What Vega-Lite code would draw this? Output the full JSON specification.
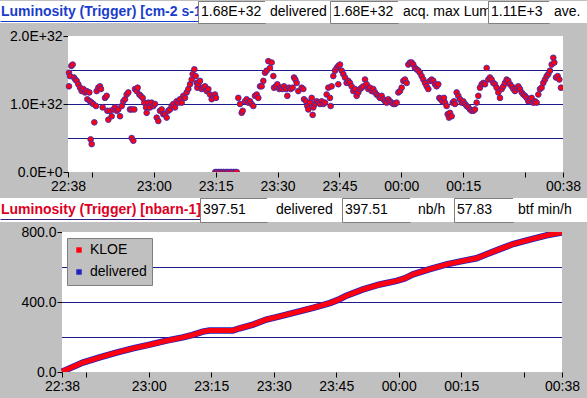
{
  "$schema": "https://vega.github.io/schema/vega-lite/v6.json",
  "background": "#c0c0c0",
  "padding": 0,
  "spacing": 0,
  "columns": 1,
  "align": "none",
  "resolve": {"scale": {"color": "independent"}, "legend": {"color": "independent"}},
  "config": {"font": "Liberation Sans", "view": {"stroke": null}, "text": {"fontSize": 14, "align": "left", "baseline": "middle", "color": "black"}},
  "datasets": {"frame": [{"panel": "plot area"}]},
  "concat": [
    {
      "spacing": 5,
      "columns": 1,
      "align": "none",
      "concat": [
        {
          "spacing": 0,
          "bounds": "flush",
          "hconcat": [
            {"width": 198, "height": 22, "view": {"fill": "white", "stroke": null}, "data": {"values": [{"t": "Luminosity (Trigger) [cm-2 s-1]"}]}, "mark": {"type": "text", "dx": 1, "clip": true, "color": "#1a3ccc", "fontWeight": "bold"}, "encoding": {"text": {"field": "t"}, "x": {"datum": 0, "type": "quantitative", "scale": {"domain": [0, 1]}, "axis": {"domainColor": "#1a3ccc", "ticks": false, "labels": false, "grid": false, "title": null, "offset": -2, "minExtent": 0, "maxExtent": 0}}}},
            {"width": 67, "height": 22, "view": {"fill": "white", "stroke": "#7f7f7f"}, "data": {"values": [{"t": "1.68E+32"}]}, "mark": {"type": "text", "dx": 3, "clip": true}, "encoding": {"text": {"field": "t"}, "x": {"datum": 0, "type": "quantitative", "scale": {"domain": [0, 1]}, "axis": null}}},
            {"width": 65, "height": 22, "view": {"fill": "white", "stroke": null}, "data": {"values": [{"t": "delivered"}]}, "mark": {"type": "text", "dx": 5, "clip": true}, "encoding": {"text": {"field": "t"}, "x": {"datum": 0, "type": "quantitative", "scale": {"domain": [0, 1]}, "axis": null}}},
            {"width": 68, "height": 22, "view": {"fill": "white", "stroke": "#7f7f7f"}, "data": {"values": [{"t": "1.68E+32"}]}, "mark": {"type": "text", "dx": 3, "clip": true}, "encoding": {"text": {"field": "t"}, "x": {"datum": 0, "type": "quantitative", "scale": {"domain": [0, 1]}, "axis": null}}},
            {"width": 90, "height": 22, "view": {"fill": "white", "stroke": null}, "data": {"values": [{"t": "acq. max Lum"}]}, "mark": {"type": "text", "dx": 5, "clip": true}, "encoding": {"text": {"field": "t"}, "x": {"datum": 0, "type": "quantitative", "scale": {"domain": [0, 1]}, "axis": null}}},
            {"width": 61, "height": 22, "view": {"fill": "white", "stroke": "#7f7f7f"}, "data": {"values": [{"t": "1.11E+3"}]}, "mark": {"type": "text", "dx": 3, "clip": true}, "encoding": {"text": {"field": "t"}, "x": {"datum": 0, "type": "quantitative", "scale": {"domain": [0, 1]}, "axis": null}}},
            {"width": 38, "height": 22, "view": {"fill": "white", "stroke": null}, "data": {"values": [{"t": "ave."}]}, "mark": {"type": "text", "dx": 5, "clip": true}, "encoding": {"text": {"field": "t"}, "x": {"datum": 0, "type": "quantitative", "scale": {"domain": [0, 1]}, "axis": null}}}
          ]
        },
        {
          "width": 563,
          "height": 136,
          "view": {"fill": null, "stroke": null},
          "layer": [
            {"data": {"name": "frame"}, "mark": {"type": "rule", "color": "white", "strokeWidth": 136, "strokeCap": "butt", "clip": true},
             "encoding": {
               "x": {"datum": 39.2, "type": "quantitative", "scale": {"domain": [39.2, 159.2], "range": [68, 563], "nice": false, "zero": false},
                 "axis": {"values": [39.2, 45, 60, 75, 90, 105, 120, 135, 150, 159.2], "labelExpr": "datum.value < 40 ? '22:38' : datum.value > 158 ? '00:38' : datum.value == 60 ? '23:00' : datum.value == 75 ? '23:15' : datum.value == 90 ? '23:30' : datum.value == 105 ? '23:45' : datum.value == 120 ? '00:00' : datum.value == 135 ? '00:15' : ''", "tickSize": 5, "labelPadding": 2, "labelFlush": false, "labelOverlap": false, "labelBound": false, "grid": false, "domain": false, "title": null, "minExtent": 25, "maxExtent": 25, "tickColor": "black", "labelColor": "black", "labelFontSize": 14}},
               "x2": {"datum": 159.2},
               "y": {"datum": 1e32, "type": "quantitative", "scale": {"domain": [0, 2e32], "nice": false},
                 "axis": {"values": [0, 5e31, 1e32, 1.5e32, 2e32], "labelExpr": "upper(format(datum.value, '.1e'))", "labelOverlap": false, "tickSize": 5, "labelPadding": 1, "grid": false, "domain": false, "title": null, "offset": -68, "minExtent": 68, "maxExtent": 68, "tickColor": "black", "labelColor": "black", "labelFontSize": 14}}
             }},
            {"data": {"name": "frame"}, "mark": {"type": "rule", "color": "#1c1c8c", "strokeWidth": 1, "yOffset": 0.5}, "encoding": {"x": {"datum": 39.2, "type": "quantitative"}, "x2": {"datum": 159.2}, "y": {"datum": 5e31, "type": "quantitative"}}},
            {"data": {"name": "frame"}, "mark": {"type": "rule", "color": "#1c1c8c", "strokeWidth": 1, "yOffset": 0.5}, "encoding": {"x": {"datum": 39.2, "type": "quantitative"}, "x2": {"datum": 159.2}, "y": {"datum": 1e32, "type": "quantitative"}}},
            {"data": {"name": "frame"}, "mark": {"type": "rule", "color": "#1c1c8c", "strokeWidth": 1, "yOffset": 0.5}, "encoding": {"x": {"datum": 39.2, "type": "quantitative"}, "x2": {"datum": 159.2}, "y": {"datum": 1.5e32, "type": "quantitative"}}},
            {
              "data": {"values": [
                {"min":39.44,"lum":1.46e32},{"min":39.44,"lum":1.26e32},{"min":39.68,"lum":1.41e32},{"min":40.01,"lum":1.56e32},{"min":40.33,"lum":1.58e32},{"min":40.65,"lum":1.39e32},{"min":40.98,"lum":1.36e32},{"min":41.30,"lum":1.34e32},{"min":41.71,"lum":1.29e32},{"min":42.11,"lum":1.24e32},{"min":42.51,"lum":1.19e32},{"min":42.92,"lum":1.22e32},{"min":43.32,"lum":1.17e32},{"min":43.73,"lum":1.19e32},{"min":43.89,"lum":1.07e32},{"min":44.37,"lum":1.17e32},{"min":44.53,"lum":1.04e32},{"min":44.69,"lum":0.48e32},{"min":44.94,"lum":0.41e32},{"min":44.94,"lum":1.02e32},{"min":45.34,"lum":1.00e32},{"min":45.58,"lum":0.73e32},{"min":45.99,"lum":0.97e32},{"min":46.15,"lum":1.19e32},{"min":46.55,"lum":1.24e32},{"min":46.96,"lum":1.26e32},{"min":47.20,"lum":1.22e32},{"min":47.60,"lum":0.95e32},{"min":48.17,"lum":1.09e32},{"min":48.57,"lum":1.12e32},{"min":48.74,"lum":0.90e32},{"min":48.98,"lum":0.77e32},{"min":49.38,"lum":0.90e32},{"min":49.79,"lum":0.82e32},{"min":50.19,"lum":0.92e32},{"min":50.59,"lum":0.95e32},{"min":51.00,"lum":0.90e32},{"min":51.40,"lum":0.92e32},{"min":51.81,"lum":0.82e32},{"min":52.21,"lum":0.97e32},{"min":52.61,"lum":1.04e32},{"min":53.02,"lum":1.07e32},{"min":53.42,"lum":1.14e32},{"min":53.83,"lum":1.17e32},{"min":54.23,"lum":0.92e32},{"min":54.63,"lum":0.50e32},{"min":55.04,"lum":0.46e32},{"min":54.63,"lum":0.92e32},{"min":55.28,"lum":0.92e32},{"min":55.44,"lum":1.22e32},{"min":55.85,"lum":1.19e32},{"min":56.09,"lum":1.24e32},{"min":56.49,"lum":1.14e32},{"min":56.82,"lum":1.12e32},{"min":57.30,"lum":1.09e32},{"min":57.71,"lum":1.02e32},{"min":58.11,"lum":0.95e32},{"min":58.27,"lum":0.87e32},{"min":58.67,"lum":1.02e32},{"min":59.08,"lum":0.95e32},{"min":59.48,"lum":1.02e32},{"min":59.89,"lum":0.97e32},{"min":60.29,"lum":1.00e32},{"min":60.70,"lum":0.80e32},{"min":61.10,"lum":0.75e32},{"min":61.50,"lum":0.90e32},{"min":61.91,"lum":0.92e32},{"min":62.31,"lum":0.85e32},{"min":62.72,"lum":0.85e32},{"min":63.12,"lum":0.80e32},{"min":63.52,"lum":0.90e32},{"min":63.93,"lum":0.92e32},{"min":64.33,"lum":0.97e32},{"min":64.74,"lum":1.00e32},{"min":65.14,"lum":0.95e32},{"min":65.54,"lum":1.04e32},{"min":65.95,"lum":1.02e32},{"min":66.35,"lum":1.07e32},{"min":66.76,"lum":1.02e32},{"min":67.16,"lum":1.12e32},{"min":67.56,"lum":1.09e32},{"min":67.97,"lum":1.17e32},{"min":68.37,"lum":1.22e32},{"min":68.78,"lum":1.29e32},{"min":69.18,"lum":1.36e32},{"min":69.42,"lum":1.44e32},{"min":69.83,"lum":1.51e32},{"min":70.15,"lum":1.41e32},{"min":70.39,"lum":1.31e32},{"min":70.55,"lum":1.24e32},{"min":70.80,"lum":1.29e32},{"min":71.20,"lum":1.34e32},{"min":71.60,"lum":1.22e32},{"min":72.01,"lum":1.24e32},{"min":72.41,"lum":1.26e32},{"min":72.82,"lum":1.19e32},{"min":73.22,"lum":1.22e32},{"min":73.62,"lum":1.14e32},{"min":74.03,"lum":1.07e32},{"min":74.43,"lum":1.12e32},{"min":74.84,"lum":1.14e32},{"min":75.08,"lum":1.09e32},
                {"min":74.9,"lum":0},{"min":75.3,"lum":0},{"min":75.7,"lum":0},{"min":76.1,"lum":0},{"min":76.5,"lum":0},{"min":76.9,"lum":0},{"min":77.3,"lum":0},{"min":77.7,"lum":0},{"min":78.1,"lum":0},{"min":78.5,"lum":0},{"min":78.9,"lum":0},{"min":79.3,"lum":0},{"min":79.7,"lum":0},{"min":80.1,"lum":0},
                {"min":80.49,"lum":1.09e32},{"min":80.90,"lum":1.00e32},{"min":81.30,"lum":0.87e32},{"min":81.54,"lum":0.90e32},{"min":82.11,"lum":1.04e32},{"min":82.51,"lum":1.07e32},{"min":82.92,"lum":1.02e32},{"min":83.32,"lum":1.04e32},{"min":83.72,"lum":1.00e32},{"min":84.13,"lum":0.97e32},{"min":84.53,"lum":1.12e32},{"min":84.94,"lum":1.14e32},{"min":85.34,"lum":1.09e32},{"min":85.75,"lum":1.26e32},{"min":86.15,"lum":1.26e32},{"min":86.55,"lum":1.34e32},{"min":86.96,"lum":1.46e32},{"min":87.36,"lum":1.49e32},{"min":87.77,"lum":1.63e32},{"min":88.17,"lum":1.53e32},{"min":88.57,"lum":1.61e32},{"min":88.98,"lum":1.41e32},{"min":89.14,"lum":1.24e32},{"min":89.62,"lum":1.26e32},{"min":89.95,"lum":1.29e32},{"min":90.43,"lum":1.22e32},{"min":90.76,"lum":1.24e32},{"min":91.16,"lum":1.22e32},{"min":91.56,"lum":1.26e32},{"min":92.05,"lum":1.22e32},{"min":92.37,"lum":1.12e32},{"min":92.78,"lum":1.24e32},{"min":93.18,"lum":1.22e32},{"min":93.66,"lum":1.24e32},{"min":93.99,"lum":1.39e32},{"min":94.31,"lum":1.36e32},{"min":94.63,"lum":1.31e32},{"min":95.04,"lum":1.19e32},
                {"min":95.84,"lum":1.24e32},{"min":96.25,"lum":1.22e32},{"min":96.41,"lum":1.07e32},{"min":96.89,"lum":1.04e32},{"min":97.22,"lum":0.97e32},{"min":97.46,"lum":0.92e32},{"min":97.86,"lum":1.02e32},{"min":98.27,"lum":1.09e32},{"min":98.51,"lum":0.84e32},{"min":98.67,"lum":0.95e32},{"min":99.07,"lum":1.00e32},{"min":99.48,"lum":1.04e32},{"min":99.88,"lum":1.02e32},{"min":100.29,"lum":1.00e32},{"min":100.69,"lum":1.04e32},{"min":101.09,"lum":1.00e32},{"min":101.50,"lum":1.02e32},{"min":101.90,"lum":1.14e32},{"min":102.31,"lum":1.24e32},{"min":102.71,"lum":1.09e32},{"min":102.87,"lum":0.97e32},{"min":103.11,"lum":1.26e32},{"min":103.52,"lum":1.41e32},{"min":103.92,"lum":1.49e32},{"min":104.33,"lum":1.53e32},{"min":104.73,"lum":1.56e32},{"min":105.14,"lum":1.58e32},{"min":104.73,"lum":1.29e32},{"min":105.54,"lum":1.49e32},{"min":105.94,"lum":1.44e32},{"min":106.35,"lum":1.39e32},{"min":106.75,"lum":1.31e32},{"min":107.16,"lum":1.34e32},{"min":107.56,"lum":1.31e32},{"min":107.96,"lum":1.26e32},{"min":108.37,"lum":1.19e32},{"min":108.77,"lum":1.22e32},{"min":109.18,"lum":1.12e32},{"min":109.58,"lum":1.17e32},{"min":109.98,"lum":1.22e32},{"min":110.39,"lum":1.24e32},{"min":110.79,"lum":1.26e32},{"min":111.20,"lum":1.36e32},{"min":111.60,"lum":1.29e32},{"min":112.00,"lum":1.22e32},{"min":112.41,"lum":1.24e32},{"min":112.81,"lum":1.19e32},{"min":113.22,"lum":1.22e32},{"min":113.62,"lum":1.17e32},{"min":114.02,"lum":1.14e32},{"min":114.43,"lum":1.12e32},{"min":114.83,"lum":1.09e32},{"min":115.24,"lum":1.12e32},{"min":115.64,"lum":1.07e32},{"min":116.05,"lum":1.04e32},{"min":116.45,"lum":1.02e32},{"min":116.85,"lum":1.07e32},{"min":117.26,"lum":1.04e32},{"min":117.66,"lum":1.02e32},{"min":118.07,"lum":1.00e32},{"min":118.47,"lum":1.00e32},{"min":118.87,"lum":1.02e32},{"min":119.28,"lum":1.17e32},{"min":119.68,"lum":1.19e32},{"min":120.09,"lum":1.24e32},{"min":120.49,"lum":1.34e32},{"min":120.89,"lum":1.36e32},{"min":121.30,"lum":1.31e32},{"min":121.70,"lum":1.58e32},{"min":122.11,"lum":1.61e32},{"min":122.51,"lum":1.61e32},{"min":122.91,"lum":1.58e32},{"min":123.32,"lum":1.53e32},{"min":123.72,"lum":1.51e32},{"min":124.13,"lum":1.49e32},{"min":124.53,"lum":1.46e32},{"min":124.93,"lum":1.41e32},{"min":125.34,"lum":1.36e32},{"min":125.74,"lum":1.31e32},{"min":126.15,"lum":1.26e32},{"min":126.55,"lum":1.22e32},{"min":126.95,"lum":1.34e32},{"min":127.36,"lum":1.36e32},{"min":127.76,"lum":1.34e32},{"min":128.17,"lum":1.29e32},{"min":128.57,"lum":1.26e32},{"min":128.97,"lum":1.29e32},{"min":129.22,"lum":1.09e32},{"min":129.54,"lum":1.07e32},{"min":129.94,"lum":1.04e32},{"min":130.35,"lum":1.09e32},{"min":130.59,"lum":1.02e32},{"min":130.99,"lum":0.97e32},{"min":131.24,"lum":0.85e32},{"min":131.56,"lum":0.80e32},{"min":131.80,"lum":0.87e32},{"min":132.21,"lum":0.82e32},{"min":132.45,"lum":1.02e32},{"min":132.77,"lum":1.04e32},{"min":133.01,"lum":1.00e32},{"min":133.42,"lum":1.17e32},{"min":133.82,"lum":1.12e32},{"min":134.23,"lum":1.07e32},{"min":134.63,"lum":1.02e32},{"min":135.03,"lum":1.04e32},{"min":135.44,"lum":1.00e32},{"min":135.84,"lum":0.97e32},{"min":136.25,"lum":0.95e32},{"min":136.65,"lum":0.92e32},{"min":137.05,"lum":0.90e32},{"min":137.46,"lum":0.90e32},{"min":137.86,"lum":0.92e32},{"min":138.27,"lum":1.02e32},{"min":138.67,"lum":1.12e32},{"min":139.07,"lum":1.24e32},{"min":139.48,"lum":1.29e32},{"min":139.88,"lum":1.31e32},{"min":140.29,"lum":1.29e32},{"min":140.69,"lum":1.53e32},{"min":141.09,"lum":1.36e32},{"min":141.50,"lum":1.39e32},{"min":141.90,"lum":1.36e32},{"min":142.31,"lum":1.31e32},{"min":142.71,"lum":1.29e32},{"min":143.11,"lum":1.24e32},{"min":143.52,"lum":1.17e32},{"min":143.92,"lum":1.09e32},{"min":144.33,"lum":1.22e32},{"min":144.73,"lum":1.26e32},{"min":145.14,"lum":1.31e32},{"min":145.54,"lum":1.36e32},{"min":145.94,"lum":1.34e32},{"min":146.35,"lum":1.29e32},{"min":146.75,"lum":1.26e32},{"min":147.16,"lum":1.22e32},{"min":147.56,"lum":1.19e32},{"min":147.96,"lum":1.24e32},{"min":148.37,"lum":1.26e32},{"min":148.77,"lum":1.22e32},{"min":149.18,"lum":1.17e32},{"min":149.58,"lum":1.14e32},{"min":149.98,"lum":1.12e32},{"min":150.39,"lum":1.09e32},{"min":150.79,"lum":1.04e32},{"min":151.20,"lum":1.07e32},{"min":151.60,"lum":1.09e32},{"min":152.00,"lum":1.02e32},{"min":152.41,"lum":1.04e32},{"min":152.81,"lum":1.02e32},{"min":153.22,"lum":1.14e32},{"min":153.62,"lum":1.22e32},{"min":154.02,"lum":1.24e32},{"min":154.43,"lum":1.31e32},{"min":154.83,"lum":1.36e32},{"min":155.24,"lum":1.41e32},{"min":155.64,"lum":1.44e32},{"min":156.04,"lum":1.49e32},{"min":156.45,"lum":1.58e32},{"min":156.85,"lum":1.68e32},{"min":157.10,"lum":1.61e32},{"min":157.50,"lum":1.39e32},{"min":157.90,"lum":1.41e32},{"min":158.31,"lum":1.36e32},{"min":158.71,"lum":1.24e32}
              ]},
              "mark": {"type": "point", "filled": true, "fill": "#ff0010", "stroke": "#3a2cb0", "strokeWidth": 0.9, "size": 32, "opacity": 1, "clip": true},
              "encoding": {
                "x": {"field": "min", "type": "quantitative"},
                "y": {"field": "lum", "type": "quantitative"}
              }
            }
          ]
        }
      ]
    },
    {
      "spacing": 2,
      "columns": 1,
      "align": "none",
      "resolve": {"scale": {"color": "independent"}, "legend": {"color": "independent"}},
      "concat": [
        {
          "spacing": 0,
          "bounds": "flush",
          "hconcat": [
            {"width": 200, "height": 24, "view": {"fill": "white", "stroke": null}, "data": {"values": [{"t": "Luminosity (Trigger) [nbarn-1]"}]}, "mark": {"type": "text", "dx": 1, "clip": true, "color": "#dd0022", "fontWeight": "bold"}, "encoding": {"text": {"field": "t"}, "x": {"datum": 0, "type": "quantitative", "scale": {"domain": [0, 1]}, "axis": {"domainColor": "#302080", "ticks": false, "labels": false, "grid": false, "title": null, "offset": -3, "minExtent": 0, "maxExtent": 0}}}},
            {"width": 67, "height": 24, "view": {"fill": "white", "stroke": "#7f7f7f"}, "data": {"values": [{"t": "397.51"}]}, "mark": {"type": "text", "dx": 3, "clip": true}, "encoding": {"text": {"field": "t"}, "x": {"datum": 0, "type": "quantitative", "scale": {"domain": [0, 1]}, "axis": null}}},
            {"width": 75, "height": 24, "view": {"fill": "white", "stroke": null}, "data": {"values": [{"t": "delivered"}]}, "mark": {"type": "text", "dx": 9, "clip": true}, "encoding": {"text": {"field": "t"}, "x": {"datum": 0, "type": "quantitative", "scale": {"domain": [0, 1]}, "axis": null}}},
            {"width": 68, "height": 24, "view": {"fill": "white", "stroke": "#7f7f7f"}, "data": {"values": [{"t": "397.51"}]}, "mark": {"type": "text", "dx": 3, "clip": true}, "encoding": {"text": {"field": "t"}, "x": {"datum": 0, "type": "quantitative", "scale": {"domain": [0, 1]}, "axis": null}}},
            {"width": 44, "height": 24, "view": {"fill": "white", "stroke": null}, "data": {"values": [{"t": "nb/h"}]}, "mark": {"type": "text", "dx": 8, "clip": true}, "encoding": {"text": {"field": "t"}, "x": {"datum": 0, "type": "quantitative", "scale": {"domain": [0, 1]}, "axis": null}}},
            {"width": 59, "height": 24, "view": {"fill": "white", "stroke": "#7f7f7f"}, "data": {"values": [{"t": "57.83"}]}, "mark": {"type": "text", "dx": 3, "clip": true}, "encoding": {"text": {"field": "t"}, "x": {"datum": 0, "type": "quantitative", "scale": {"domain": [0, 1]}, "axis": null}}},
            {"width": 74, "height": 24, "view": {"fill": "white", "stroke": null}, "data": {"values": [{"t": "btf min/h"}]}, "mark": {"type": "text", "dx": 5, "clip": true}, "encoding": {"text": {"field": "t"}, "x": {"datum": 0, "type": "quantitative", "scale": {"domain": [0, 1]}, "axis": null}}}
          ]
        },
        {
          "width": 562,
          "height": 140,
          "view": {"fill": null, "stroke": null},
          "layer": [
            {"data": {"name": "frame"}, "mark": {"type": "rule", "color": "white", "strokeWidth": 140, "strokeCap": "butt", "clip": true},
             "encoding": {
               "x": {"datum": 39.2, "type": "quantitative", "scale": {"domain": [39.2, 159.2], "range": [62, 562], "nice": false, "zero": false},
                 "axis": {"values": [39.2, 45, 60, 75, 90, 105, 120, 135, 150, 159.2], "labelExpr": "datum.value < 40 ? '22:38' : datum.value > 158 ? '00:38' : datum.value == 60 ? '23:00' : datum.value == 75 ? '23:15' : datum.value == 90 ? '23:30' : datum.value == 105 ? '23:45' : datum.value == 120 ? '00:00' : datum.value == 135 ? '00:15' : ''", "tickSize": 5, "labelPadding": 2, "labelFlush": false, "labelOverlap": false, "labelBound": false, "grid": false, "domain": false, "title": null, "minExtent": 27, "maxExtent": 27, "tickColor": "black", "labelColor": "black", "labelFontSize": 14}},
               "x2": {"datum": 159.2},
               "y": {"datum": 400, "type": "quantitative", "scale": {"domain": [0, 800], "nice": false},
                 "axis": {"values": [0, 200, 400, 600, 800], "format": ".1f", "labelOverlap": false, "tickSize": 5, "labelPadding": 1, "grid": false, "domain": false, "title": null, "offset": -62, "minExtent": 62, "maxExtent": 62, "tickColor": "black", "labelColor": "black", "labelFontSize": 14}}
             }},
            {"data": {"name": "frame"}, "mark": {"type": "rule", "color": "#1c1c8c", "strokeWidth": 1, "yOffset": 0.5}, "encoding": {"x": {"datum": 39.2, "type": "quantitative"}, "x2": {"datum": 159.2}, "y": {"datum": 200, "type": "quantitative"}}},
            {"data": {"name": "frame"}, "mark": {"type": "rule", "color": "#1c1c8c", "strokeWidth": 1, "yOffset": 0.5}, "encoding": {"x": {"datum": 39.2, "type": "quantitative"}, "x2": {"datum": 159.2}, "y": {"datum": 400, "type": "quantitative"}}},
            {"data": {"name": "frame"}, "mark": {"type": "rule", "color": "#1c1c8c", "strokeWidth": 1, "yOffset": 0.5}, "encoding": {"x": {"datum": 39.2, "type": "quantitative"}, "x2": {"datum": 159.2}, "y": {"datum": 600, "type": "quantitative"}}},
            {
              "data": {"values": [
                {"min":39.2,"KLOE":2,"delivered":2},{"min":44.2,"KLOE":54,"delivered":54},{"min":48.25,"KLOE":83,"delivered":83},{"min":52.25,"KLOE":111,"delivered":111},{"min":56.2,"KLOE":135,"delivered":135},{"min":60.25,"KLOE":156,"delivered":156},{"min":64.25,"KLOE":179,"delivered":179},{"min":68.2,"KLOE":198,"delivered":198},{"min":70.6,"KLOE":212,"delivered":212},{"min":73.0,"KLOE":231,"delivered":231},{"min":74.6,"KLOE":237,"delivered":237},{"min":76.2,"KLOE":237,"delivered":237},{"min":78.65,"KLOE":237,"delivered":237},{"min":80.2,"KLOE":237,"delivered":237},{"min":81.85,"KLOE":250,"delivered":250},{"min":85.05,"KLOE":271,"delivered":271},{"min":88.25,"KLOE":300,"delivered":300},{"min":91.45,"KLOE":318,"delivered":318},{"min":95.45,"KLOE":342,"delivered":342},{"min":99.45,"KLOE":367,"delivered":367},{"min":103.45,"KLOE":394,"delivered":394},{"min":105.45,"KLOE":412,"delivered":412},{"min":107.45,"KLOE":436,"delivered":436},{"min":111.45,"KLOE":472,"delivered":472},{"min":115.45,"KLOE":500,"delivered":500},{"min":119.5,"KLOE":521,"delivered":521},{"min":121.45,"KLOE":535,"delivered":535},{"min":123.45,"KLOE":558,"delivered":558},{"min":127.45,"KLOE":588,"delivered":588},{"min":131.5,"KLOE":615,"delivered":615},{"min":135.45,"KLOE":635,"delivered":635},{"min":138.65,"KLOE":650,"delivered":650},{"min":141.1,"KLOE":673,"delivered":673},{"min":144.25,"KLOE":702,"delivered":702},{"min":147.45,"KLOE":731,"delivered":731},{"min":151.45,"KLOE":756,"delivered":756},{"min":155.45,"KLOE":781,"delivered":781},{"min":159.2,"KLOE":798,"delivered":798}
              ]},
              "transform": [{"fold": ["KLOE", "delivered"], "as": ["series", "int"]}],
              "encoding": {
                "x": {"field": "min", "type": "quantitative"},
                "y": {"field": "int", "type": "quantitative"},
                "color": {"field": "series", "type": "nominal", "scale": {"domain": ["KLOE", "delivered"], "range": ["#ff0010", "#2020c0"]},
                  "legend": {"orient": "none", "legendX": 67, "legendY": 6, "title": null, "fillColor": "#c0c0c0", "strokeColor": "#7f7f7f", "padding": 5, "labelFontSize": 14, "labelColor": "black", "symbolType": "square", "symbolSize": 6, "symbolStrokeWidth": 3, "rowPadding": 6}}
              },
              "layer": [
                {"transform": [{"filter": "datum.series == 'delivered'"}], "mark": {"type": "line", "strokeWidth": 6.5, "clip": true}},
                {"transform": [{"filter": "datum.series == 'KLOE'"}], "mark": {"type": "line", "strokeWidth": 5, "clip": true}}
              ]
            }
          ]
        }
      ]
    }
  ]
}
